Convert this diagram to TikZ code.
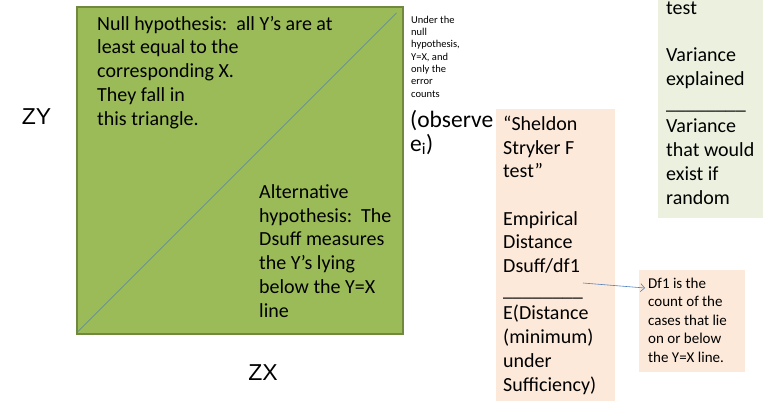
\documentclass[tikz,border=0pt]{standalone}
\usepackage{fontspec}
\setmainfont{Carlito}
\newfontfamily\axisfont{Liberation Sans}
\usetikzlibrary{arrows.meta}
\definecolor{olivegreen}{HTML}{9BBB59}
\definecolor{olivedark}{HTML}{71893F}
\definecolor{peach}{HTML}{FDE9D9}
\definecolor{palegreen}{HTML}{EBF1DE}
\definecolor{linkblue}{HTML}{4F81BD}

\begin{document}
\begin{tikzpicture}[x=1pt, y=-1pt,
  bigtext/.style={anchor=base west, inner sep=0pt, align=left, font=\fontsize{20}{23.7}\selectfont},
  smalltext/.style={anchor=base west, inner sep=0pt, align=left, font=\fontsize{10.5}{12.3}\selectfont},
  axislabel/.style={inner sep=0pt, font=\axisfont\fontsize{23}{27}\selectfont}]
\useasboundingbox (0,0) rectangle (763,400);
% square with the Y=X line (text nodes are placed at their last baseline)
\node[fill=olivegreen, draw=olivedark, line width=1.5pt, minimum width=326pt, minimum height=327pt, anchor=north west] (sq) at (76,6) {};
\draw[linkblue, line width=0.6pt] ([shift={(2pt,3pt)}]sq.south west) -- ([shift={(-7pt,-7pt)}]sq.north east);
\node[bigtext] (nulltxt) at (97,125) {Null hypothesis:\ \ all Y’s are at\\least equal to the\\corresponding X.\\They fall in\\this triangle.};
\node[bigtext] (alttxt) at (259,317) {Alternative\\hypothesis:\ \ The\\Dsuff measures\\the Y’s lying\\below the Y=X\\line};
\node[axislabel] (zy) at (36.5,116.5) {ZY};
\node[axislabel] (zx) at (263,372.5) {ZX};
% side notes
\node[smalltext] (undertxt) at (411,97) {Under the\\null\\hypothesis,\\Y=X, and\\only the\\error\\counts};
\node[bigtext, font=\fontsize{23.5}{24}\selectfont] (obstxt) at (410,151) {(observe\\e\textsubscript{i})};
\node[fill=peach, minimum width=119pt, minimum height=300pt, anchor=north west] (fbox) at (496,109) {};
\node[bigtext] (ftxt) at (503,391) {“Sheldon\\Stryker F\\test”\\ \\Empirical\\Distance\\Dsuff/df1\\\_\_\_\_\_\_\_\_\\E(Distance\\(minimum)\\under\\Sufficiency)};
\node[fill=palegreen, minimum width=110pt, minimum height=225pt, anchor=south west] (vbox) at (658,218) {};
\node[bigtext] (vtxt) at (666,204) {test\\ \\Variance\\explained\\\_\_\_\_\_\_\_\_\\Variance\\that would\\exist if\\random};
\node[fill=peach, minimum width=106pt, minimum height=102pt, anchor=north west] (dfbox) at (639,270) {};
\node[anchor=base west, inner sep=0pt, align=left, font=\fontsize{15}{18.5}\selectfont] (dftxt) at (648,362) {Df1 is the\\count of the\\cases that lie\\on or below\\the Y=X line.};
\coordinate (arrstart) at (583,283);
\draw[linkblue, line width=0.6pt, -{Straight Barb[length=4pt, width=8pt]}] (arrstart) -- ([shift={(6pt,-18pt)}]dfbox.north west);
\end{tikzpicture}
\end{document}
